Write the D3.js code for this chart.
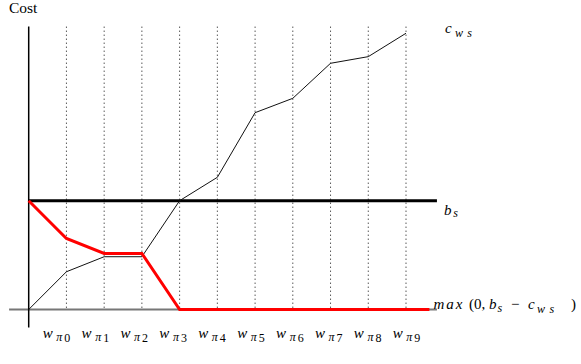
<!DOCTYPE html>
<html>
<head>
<meta charset="utf-8">
<script src="https://cdn.jsdelivr.net/npm/d3@7"></script>
<style>
  html, body { margin: 0; padding: 0; background: #fff; }
  svg { display: block; }
</style>
</head>
<body>
<div id="chart"></div>
<script>
// Subscript indices of the ordered items w_{π i}
const itemIndex = ["0", "1", "2", "3", "4", "5", "6", "7", "8", "9"];
// Cumulative cost c_ws: origin value followed by one value per item
const cws = [0, 3.47, 4.85, 4.85, 10.0, 12.15, 18.09, 19.41, 22.63, 23.24, 25.39];
// Budget b_s
const bs = 10;

const width = 581, height = 364;
const serif = "'Liberation Serif', 'DejaVu Serif', 'Times New Roman', serif";
const svg = d3.select("#chart").append("svg")
  .attr("width", width).attr("height", height)
  .attr("font-family", serif);

// Scales: step position along the item order, cost upward
const x = d3.scaleLinear().domain([0, 10]).range([28.7, 406]);
const y = d3.scaleLinear().domain([0, bs]).range([309.5, 200.7]);
const labelX = d3.scaleLinear().domain([0, 9]).range([42.7, 392.7]);

const yTop = 26;       // top of the cost axis
const xStart = -0.52;  // left end of the zero line
const xEnd = 10.82;    // right end of the budget / zero line
const redEnd = 10.62;  // right end of the slack curve

const steps = d3.range(cws.length);
const slack = steps.map(i => Math.max(0, bs - cws[i]));

// Dotted guides at each item
svg.append("g").selectAll("line")
  .data(itemIndex)
  .join("line")
  .attr("x1", (d, i) => x(i + 1)).attr("x2", (d, i) => x(i + 1))
  .attr("y1", y(yTop)).attr("y2", y(0))
  .attr("stroke", "#333").attr("stroke-width", 1)
  .attr("stroke-dasharray", "1.2,2.8");

// Zero line
svg.append("line")
  .attr("x1", x(xStart)).attr("x2", x(xEnd))
  .attr("y1", y(0)).attr("y2", y(0))
  .attr("stroke", "#777").attr("stroke-width", 2);

// Cost axis
svg.append("line")
  .attr("x1", x(0)).attr("x2", x(0))
  .attr("y1", y(yTop)).attr("y2", 327.5)
  .attr("stroke", "#000").attr("stroke-width", 1.5);

// Budget line b_s
svg.append("line")
  .attr("x1", x(0)).attr("x2", x(xEnd))
  .attr("y1", y(bs)).attr("y2", y(bs))
  .attr("stroke", "#000").attr("stroke-width", 3);

// Cumulative cost c_ws
const line = d3.line().x(d => x(d[0])).y(d => y(d[1]));
svg.append("path")
  .datum(steps.map(i => [i, cws[i]]))
  .attr("d", line)
  .attr("fill", "none").attr("stroke", "#111").attr("stroke-width", 1)
  .attr("stroke-linejoin", "round");

// Slack max(0, b_s - c_ws)
const slackPts = steps.map(i => [i, slack[i]]).concat([[redEnd, 0]]);
svg.append("path")
  .datum(slackPts)
  .attr("d", line)
  .attr("fill", "none").attr("stroke", "#ff0000").attr("stroke-width", 3)
  .attr("stroke-linejoin", "miter");

// Axis title
svg.append("text").attr("x", 9).attr("y", 12.5)
  .attr("font-size", 15.5).text("Cost");

// Small helper for a math-style run of glyphs placed at absolute positions
function mathText(parts, base) {
  const t = svg.append("text").attr("font-size", 15);
  parts.forEach(p => {
    t.append("tspan")
      .attr("x", p.x)
      .attr("y", base + (p.sub || 0))
      .attr("font-size", p.size || 15)
      .attr("font-style", p.italic ? "italic" : "normal")
      .attr("letter-spacing", p.ls || 0)
      .text(p.t);
  });
  return t;
}

// Item labels w_{π i}
itemIndex.forEach((d, i) => {
  const x0 = labelX(i);
  mathText([
    { t: "w", x: x0, italic: true },
    { t: "π", x: x0 + 13.6, italic: true, size: 12, sub: 2.4 },
    { t: d, x: x0 + 21.6, size: 12, sub: 3.4 }
  ], 338.3);
});

// Curve labels
mathText([
  { t: "c", x: 445, italic: true },
  { t: "w", x: 455, italic: true, size: 12, sub: 3.4 },
  { t: "s", x: 467.3, italic: true, size: 12, sub: 3.4 }
], 33.3);

mathText([
  { t: "b", x: 444, italic: true },
  { t: "s", x: 453.3, italic: true, size: 12, sub: 2.3 }
], 215);

mathText([
  { t: "max", x: 433.5, italic: true, ls: 2 },
  { t: "(0,", x: 469 },
  { t: "b", x: 489, italic: true },
  { t: "s", x: 497.5, italic: true, size: 12, sub: 2.3 },
  { t: "−", x: 511 },
  { t: "c", x: 528, italic: true },
  { t: "w", x: 537, italic: true, size: 12, sub: 3.4 },
  { t: "s", x: 549.5, italic: true, size: 12, sub: 3.4 },
  { t: ")", x: 571 }
], 309.3);
</script>
</body>
</html>
